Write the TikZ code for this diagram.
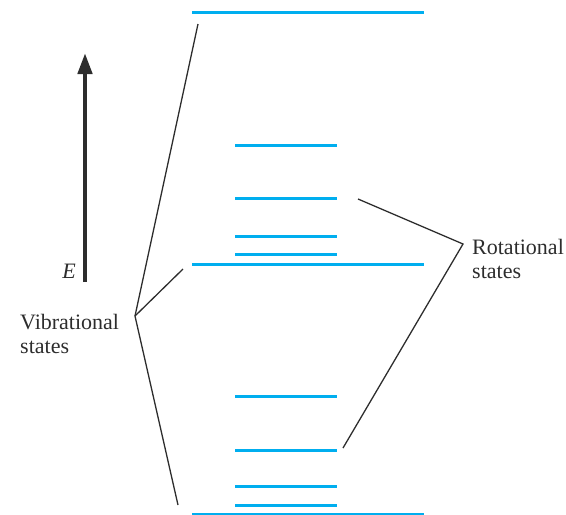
\documentclass[tikz,border=0pt]{standalone}
\usepackage{fontspec}
\setmainfont{Liberation Serif}
\usetikzlibrary{arrows.meta}
\definecolor{levelcyan}{RGB}{0,174,239}
\definecolor{ink}{RGB}{45,45,45}
\begin{document}
\begin{tikzpicture}[x=1pt,y=-1pt,
  level/.style={draw=levelcyan,line width=3pt},
  pointer/.style={draw=ink,line width=1.3pt},
  lbl/.style={text=ink,inner sep=0pt,font=\fontsize{22}{24}\selectfont,align=left}]
\useasboundingbox (0,0) rectangle (566,515);

% vibrational levels (long lines)
\foreach \n/\y in {v2/12,v1/264,v0/514}{
  \coordinate (\n-w) at (192,\y);
  \coordinate (\n-e) at (424,\y);
  \draw[level] (\n-w) -- (\n-e);
}
% rotational levels (short lines)
\foreach \n/\y in {ra/145,rb/198,rc/236,rd/254,re/396,rf/450,rg/486,rh/505}{
  \coordinate (\n-w) at (235,\y);
  \coordinate (\n-e) at (337,\y);
  \draw[level] (\n-w) -- (\n-e);
}

% energy axis
\coordinate (Elow) at (85,282);
\coordinate (Ehigh) at (85,53);
\draw[draw=ink,line width=4.5pt,-{Triangle[width=14pt,length=21pt]}] (Elow) -- (Ehigh);
\node[lbl,font=\fontsize{22}{24}\selectfont\itshape,anchor=base east] (E) at (76,278) {E};

% labels
\node[lbl,anchor=west] (vib) at (20,334) {Vibrational\\states};
\node[lbl,anchor=west] (rot) at (472,259) {Rotational\\states};

% pointer lines
\coordinate (vtip) at (135,316);
\coordinate (vp2) at (198,24);
\coordinate (vp1) at (183,269);
\coordinate (vp0) at (178,505);
\draw[pointer] (vp2) -- (vtip) -- (vp0);
\draw[pointer] (vtip) -- (vp1);

\coordinate (rtip) at (463,244);
\coordinate (rp1) at (358,199);
\coordinate (rp0) at (343,448);
\draw[pointer] (rp1) -- (rtip) -- (rp0);
\end{tikzpicture}
\end{document}
